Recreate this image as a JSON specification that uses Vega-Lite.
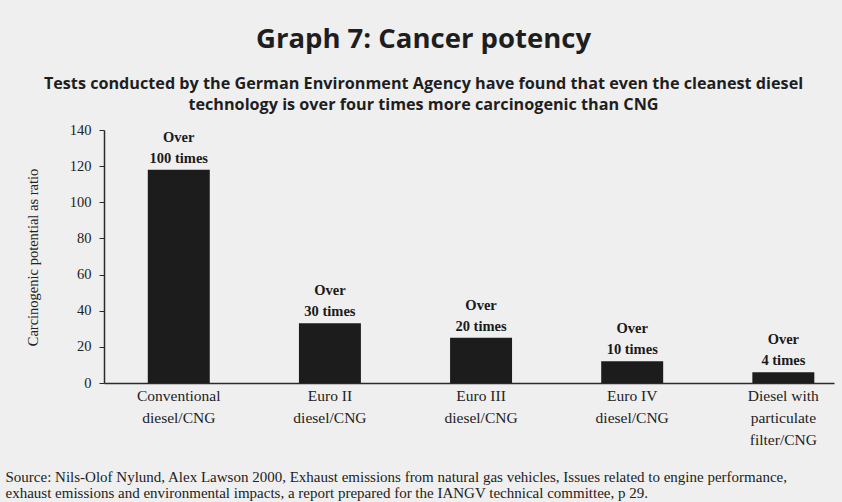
{
  "$schema": "https://vega.github.io/schema/vega-lite/v6.json",
  "width": 730,
  "height": 253,
  "autosize": "none",
  "padding": {"left": 104, "top": 130, "right": 8, "bottom": 119},
  "background": "#efefef",
  "config": {"view": {"stroke": null}},
  "title": {
    "text": "Graph 7: Cancer potency",
    "subtitle": [
      "Tests conducted by the German Environment Agency have found that even the cleanest diesel",
      "technology is over four times more carcinogenic than CNG"
    ],
    "font": "Open Sans",
    "fontSize": 27.5,
    "fontWeight": "bold",
    "color": "#1e1e1e",
    "subtitleFont": "Open Sans",
    "subtitleFontSize": 16.2,
    "subtitleFontWeight": "bold",
    "subtitleColor": "#1e1e1e",
    "subtitleLineHeight": 21,
    "subtitlePadding": 22,
    "offset": 9,
    "anchor": "middle",
    "frame": "bounds",
    "dx": 4
  },
  "data": {
    "values": [
      {"vehicle": "Conventional|diesel/CNG", "ratio": 118, "label": "Over\n100 times"},
      {"vehicle": "Euro II|diesel/CNG", "ratio": 33, "label": "Over\n30 times"},
      {"vehicle": "Euro III|diesel/CNG", "ratio": 25, "label": "Over\n20 times"},
      {"vehicle": "Euro IV|diesel/CNG", "ratio": 12, "label": "Over\n10 times"},
      {"vehicle": "Diesel with|particulate|filter/CNG", "ratio": 6, "label": "Over\n4 times"}
    ]
  },
  "encoding": {
    "x": {
      "field": "vehicle",
      "type": "nominal",
      "sort": null,
      "scale": {"paddingInner": 0.59, "paddingOuter": 0.21, "align": 0.69},
      "axis": {
        "labelExpr": "split(datum.label, '|')",
        "labelAngle": 0,
        "labelFont": "Liberation Serif",
        "labelFontSize": 15.5,
        "labelLineHeight": 22,
        "labelColor": "#222222",
        "labelPadding": 5,
        "labelOverlap": false,
        "labelBaseline": "top",
        "ticks": false,
        "domainColor": "#2a2a2a",
        "domainWidth": 1.5,
        "title": [
          "Source: Nils-Olof Nylund, Alex Lawson 2000, Exhaust emissions from natural gas vehicles, Issues related to engine performance,",
          "exhaust emissions and environmental impacts, a report prepared for the IANGV technical committee, p 29."
        ],
        "titleFont": "Liberation Serif",
        "titleFontSize": 15,
        "titleFontWeight": "normal",
        "titleColor": "#222222",
        "titleAnchor": "start",
        "titleAlign": "left",
        "titleBaseline": "alphabetic",
        "titleLineHeight": 16,
        "titleX": -99,
        "titleY": 98
      }
    },
    "y": {
      "field": "ratio",
      "type": "quantitative",
      "scale": {"domain": [0, 140]},
      "axis": {
        "values": [0, 20, 40, 60, 80, 100, 120, 140],
        "grid": false,
        "labelFont": "Liberation Serif",
        "labelFontSize": 14.5,
        "labelColor": "#222222",
        "labelPadding": 8,
        "tickSize": 5,
        "tickColor": "#2a2a2a",
        "domainColor": "#2a2a2a",
        "domainWidth": 1.5,
        "title": "Carcinogenic potential as ratio",
        "titleFont": "Liberation Serif",
        "titleFontSize": 14.5,
        "titleFontWeight": "normal",
        "titleColor": "#222222",
        "titleAngle": -90,
        "titleAlign": "center",
        "titleBaseline": "middle",
        "titleX": -71,
        "titleY": 127
      }
    }
  },
  "layer": [
    {"mark": {"type": "bar", "color": "#1c1c1c"}},
    {
      "mark": {
        "type": "text",
        "baseline": "bottom",
        "dy": -25,
        "font": "Liberation Serif",
        "fontSize": 14.5,
        "fontWeight": "bold",
        "lineBreak": "\n",
        "lineHeight": 21,
        "color": "#1a1a1a"
      },
      "encoding": {"text": {"field": "label"}}
    }
  ]
}
